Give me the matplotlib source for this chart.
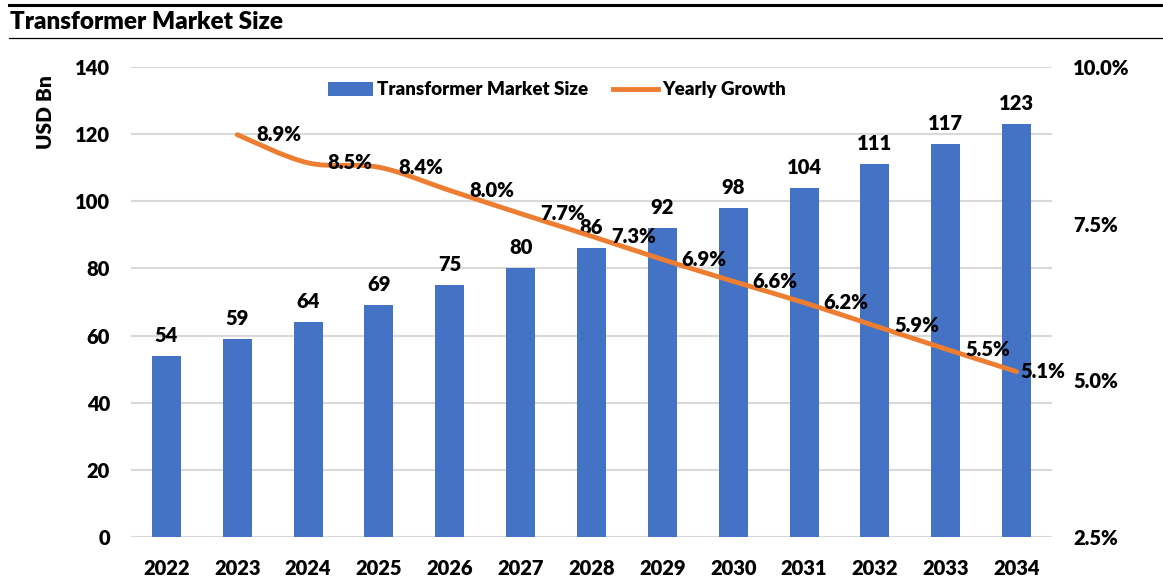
import numpy as np
import matplotlib.pyplot as plt
from matplotlib.path import Path
from matplotlib.patches import PathPatch
from matplotlib.lines import Line2D
from matplotlib.patches import Patch

plt.rcParams['font.family'] = ['Lato', 'DejaVu Sans']
W = 'heavy'
plt.rcParams['font.weight'] = W

# data
years = ['2022', '2023', '2024', '2025', '2026', '2027', '2028',
         '2029', '2030', '2031', '2032', '2033', '2034']
market_size = [54, 59, 64, 69, 75, 80, 86, 92, 98, 104, 111, 117, 123]
growth_years = years[1:]
growth = [8.92, 8.47, 8.40, 8.03, 7.66, 7.30, 6.93, 6.58, 6.24, 5.87, 5.50, 5.14]

BLUE = '#4472C4'
ORANGE = '#ED7D31'
GRID = '#D9D9D9'
FS = 14.5

fig = plt.figure(figsize=(11.63, 5.80), dpi=100)
ax = fig.add_axes([0.1126, 0.0741, 0.7920, 0.8104])
ax2 = ax.twinx()

x = np.arange(len(years))
bars = ax.bar(x, market_size, width=0.41, color=BLUE, zorder=2)
for xi, v in zip(x, market_size):
    ax.annotate(f'{v}', (xi, v), xytext=(0, 8), textcoords='offset points',
                ha='center', va='bottom', fontsize=FS, fontweight=W)

ax.set_xlim(-0.5, len(years) - 0.5)
ax.set_ylim(0, 140)
ax.set_yticks(range(0, 141, 20))
ax.set_xticks(x)
ax.set_xticklabels(years)
ax.yaxis.grid(True, color=GRID, linewidth=1.5, zorder=0)
ax.set_axisbelow(True)
for s in ax.spines.values():
    s.set_visible(False)
for s in ax2.spines.values():
    s.set_visible(False)
ax.tick_params(length=0, labelsize=FS)
ax.tick_params(axis='x', pad=16)
ax.tick_params(axis='y', pad=15)
fig.text(45 / 1163, 1 - 112 / 580, 'USD Bn', rotation=90, fontsize=15,
         fontweight=W, ha='center', va='center')

# smoothed growth line (Catmull-Rom style bezier through the points)
gx = x[1:].astype(float)
gy = np.array(growth)
verts = [(gx[0], gy[0])]
codes = [Path.MOVETO]
n = len(gx)
for i in range(n - 1):
    p0 = (gx[max(i - 1, 0)], gy[max(i - 1, 0)])
    p1 = (gx[i], gy[i])
    p2 = (gx[i + 1], gy[i + 1])
    p3 = (gx[min(i + 2, n - 1)], gy[min(i + 2, n - 1)])
    c1 = (p1[0] + (p2[0] - p0[0]) / 6, p1[1] + (p2[1] - p0[1]) / 6)
    c2 = (p2[0] - (p3[0] - p1[0]) / 6, p2[1] - (p3[1] - p1[1]) / 6)
    verts += [c1, c2, p2]
    codes += [Path.CURVE4] * 3
ax2.add_patch(PathPatch(Path(verts, codes), facecolor='none', edgecolor=ORANGE,
                        linewidth=3.5, capstyle='round', zorder=3))
ax2.set_ylim(2.5, 10.0)
ax2.set_yticks([2.5, 5.0, 7.5, 10.0])
ax2.set_yticklabels([f'{t:.1f}%' for t in [2.5, 5.0, 7.5, 10.0]])
ax2.tick_params(length=0, labelsize=FS, pad=15)

for i, (xi, v) in enumerate(zip(gx, gy)):
    off = 3 if i == n - 1 else 14
    ax2.annotate(f'{v:.1f}%', (xi, v), xytext=(off, 0), textcoords='offset points',
                 ha='left', va='center', fontsize=FS, fontweight=W, zorder=4)

handles = [Patch(facecolor=BLUE), Line2D([], [], color=ORANGE, linewidth=3.5)]
fig.legend(handles, ['Transformer Market Size', 'Yearly Growth'],
           loc='center', bbox_to_anchor=(0.479, 0.845), ncol=2, frameon=False,
           fontsize=13.5, handlelength=2.4, handleheight=0.75, columnspacing=1.3,
           handletextpad=0.25)

# title with rules above and below
fig.text(0.009, 0.962, 'Transformer Market Size', fontsize=17.5, fontweight=W,
         ha='left', va='center')
fig.add_artist(Line2D([0.008, 1.0], [0.992, 0.992], color='black', linewidth=2.2))
fig.add_artist(Line2D([0.008, 1.0], [0.934, 0.934], color='black', linewidth=0.9))

fig.savefig('out.png', dpi=100)
